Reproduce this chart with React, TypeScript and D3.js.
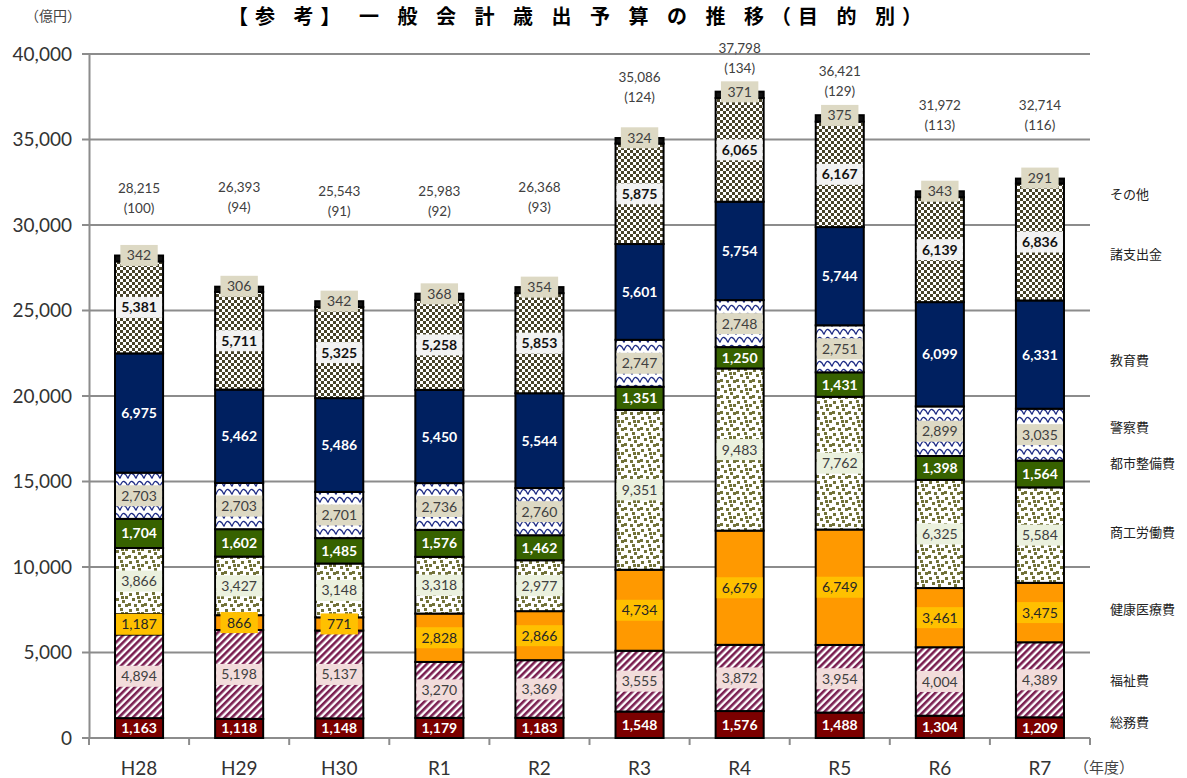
import React, { useEffect, useRef } from "react";
import * as d3 from "d3";

// 年度
const years = ["H28", "H29", "H30", "R1", "R2", "R3", "R4", "R5", "R6", "R7"];

// 目的別 (億円), bottom to top
const seriesNames = ["総務費", "福祉費", "健康医療費", "商工労働費", "都市整備費", "警察費", "教育費", "諸支出金", "その他"];
const soumu = [1163, 1118, 1148, 1179, 1183, 1548, 1576, 1488, 1304, 1209];
const fukushi = [4894, 5198, 5137, 3270, 3369, 3555, 3872, 3954, 4004, 4389];
const kenkou = [1187, 866, 771, 2828, 2866, 4734, 6679, 6749, 3461, 3475];
const shoukou = [3866, 3427, 3148, 3318, 2977, 9351, 9483, 7762, 6325, 5584];
const toshi = [1704, 1602, 1485, 1576, 1462, 1351, 1250, 1431, 1398, 1564];
const keisatsu = [2703, 2703, 2701, 2736, 2760, 2747, 2748, 2751, 2899, 3035];
const kyouiku = [6975, 5462, 5486, 5450, 5544, 5601, 5754, 5744, 6099, 6331];
const shishutsu = [5381, 5711, 5325, 5258, 5853, 5875, 6065, 6167, 6139, 6836];
const sonota = [342, 306, 342, 368, 354, 324, 371, 375, 343, 291];

const totals = [28215, 26393, 25543, 25983, 26368, 35086, 37798, 36421, 31972, 32714];
const indexVals = [100, 94, 91, 92, 93, 124, 134, 129, 113, 116];

const yTicks = [0, 5000, 10000, 15000, 20000, 25000, 30000, 35000, 40000];

// where the hand-placed text sits (in 億円 on the y scale)
const totalLabelAt = [32160, 32220, 31990, 31990, 32220, 38650, 40350, 39000, 37020, 37020];
const legendAt = [940, 3390, 7540, 12050, 16080, 18190, 22100, 28300, 31810];

const seriesValues = [soumu, fukushi, kenkou, shoukou, toshi, keisatsu, kyouiku, shishutsu, sonota];

const styles = [
  { fill: "#7B0000", bg: null, color: "#fff", bold: true },
  { fill: "url(#pStripe)", bg: "#F2DCDB", color: "#404040", bold: false },
  { fill: "#FF9900", bg: "#FFC000", color: "#262626", bold: false },
  { fill: "url(#pConfetti)", bg: "#EBF1DE", color: "#404040", bold: false },
  { fill: "#376200", bg: null, color: "#fff", bold: true },
  { fill: "url(#pWave)", bg: "#DDD9C4", color: "#404040", bold: false },
  { fill: "#002060", bg: null, color: "#fff", bold: true },
  { fill: "url(#pCheck)", bg: "#F2F2F2", color: "#111", bold: true },
  { fill: "#111", bg: "#DDD9C4", color: "#404040", bold: false },
];

const numFont = "Lato, 'Open Sans', sans-serif";
const jpFont = "'Noto Sans CJK JP', sans-serif";

export default function App() {
  const ref = useRef<SVGSVGElement>(null);

  useEffect(() => {
    const svg = d3.select(ref.current);
    svg.selectAll("*").remove();

    const x = d3
      .scaleBand()
      .domain(years)
      .range([89, 1090])
      .paddingInner(0.5)
      .paddingOuter(0.25);
    const y = d3.scaleLinear().domain([0, 40000]).range([738, 54]);

    const defs = svg.append("defs");

    const ps = defs
      .append("pattern")
      .attr("id", "pStripe")
      .attr("patternUnits", "userSpaceOnUse")
      .attr("width", 5)
      .attr("height", 5)
      .attr("patternTransform", "rotate(45)");
    ps.append("rect").attr("width", 5).attr("height", 5).attr("fill", "#fff");
    ps.append("rect").attr("width", 2.6).attr("height", 5).attr("fill", "#7A1E50");

    const pc = defs
      .append("pattern")
      .attr("id", "pCheck")
      .attr("patternUnits", "userSpaceOnUse")
      .attr("width", 6)
      .attr("height", 6);
    pc.append("rect").attr("width", 6).attr("height", 6).attr("fill", "#fff");
    pc.append("rect").attr("width", 3).attr("height", 3).attr("fill", "#48432A");
    pc.append("rect").attr("x", 3).attr("y", 3).attr("width", 3).attr("height", 3).attr("fill", "#48432A");

    // confetti-like scattered squares
    const pf = defs
      .append("pattern")
      .attr("id", "pConfetti")
      .attr("patternUnits", "userSpaceOnUse")
      .attr("width", 16)
      .attr("height", 16);
    pf.append("rect").attr("width", 16).attr("height", 16).attr("fill", "#fff");
    [[1, 1], [8, 0], [13, 4], [4, 6], [10, 8], [0, 11], [6, 12], [13, 12], [9, 4]].forEach(([a, b]) =>
      pf.append("rect").attr("x", a).attr("y", b).attr("width", 3).attr("height", 3).attr("fill", "#72723A")
    );

    const pw = defs
      .append("pattern")
      .attr("id", "pWave")
      .attr("patternUnits", "userSpaceOnUse")
      .attr("width", 8)
      .attr("height", 8);
    pw.append("rect").attr("width", 8).attr("height", 8).attr("fill", "#fff");
    pw.append("path")
      .attr("d", "M0,6.5 Q2,1 4,1.5 T8,6.5")
      .attr("fill", "none")
      .attr("stroke", "#1C2A84")
      .attr("stroke-width", 1.3);

    // gridlines
    svg
      .append("g")
      .selectAll("line")
      .data(yTicks)
      .join("line")
      .attr("x1", 82)
      .attr("x2", 1090)
      .attr("y1", (d) => y(d))
      .attr("y2", (d) => y(d))
      .attr("stroke", "#8C8C8C")
      .attr("stroke-width", 2);

    // y axis
    const yAxis = svg
      .append("g")
      .attr("transform", "translate(89,0)")
      .call(d3.axisLeft(y).tickValues(yTicks).tickSize(0).tickPadding(17).tickFormat(d3.format(",")));
    yAxis.select(".domain").attr("stroke", "#8C8C8C").attr("stroke-width", 2);
    yAxis
      .selectAll("text")
      .attr("font-family", numFont)
      .attr("font-size", 19)
      .attr("fill", "#333");

    // x axis ticks between categories
    const step = x.step();
    const bounds = years.map((c) => (x(c) as number) - step * 0.25).concat([1090]);
    svg
      .append("g")
      .selectAll("line")
      .data(bounds)
      .join("line")
      .attr("x1", (d) => d)
      .attr("x2", (d) => d)
      .attr("y1", 738)
      .attr("y2", 745)
      .attr("stroke", "#8C8C8C")
      .attr("stroke-width", 2);

    svg
      .append("g")
      .selectAll("text")
      .data(years)
      .join("text")
      .attr("x", (d) => (x(d) as number) + x.bandwidth() / 2)
      .attr("y", 775)
      .attr("text-anchor", "middle")
      .attr("font-family", numFont)
      .attr("font-size", 19)
      .attr("fill", "#333")
      .text((d) => d);

    // stacked bars
    const rows = years.map((yr, i) => {
      const r: any = { year: yr };
      seriesNames.forEach((s, k) => (r[s] = seriesValues[k][i]));
      return r;
    });
    const stacked = d3.stack().keys(seriesNames)(rows);
    const bw = x.bandwidth();

    stacked.forEach((layer, k) => {
      svg
        .append("g")
        .selectAll("rect")
        .data(layer)
        .join("rect")
        .attr("x", (d: any) => (x(d.data.year) as number) + 1)
        .attr("width", bw - 2)
        .attr("y", (d) => y(d[1]))
        .attr("height", (d) => y(d[0]) - y(d[1]))
        .attr("fill", styles[k].fill)
        .attr("stroke", "#000")
        .attr("stroke-width", 2);
    });

    // segment labels
    stacked.forEach((layer, k) => {
      const st = styles[k];
      layer.forEach((d: any) => {
        const cx = (x(d.data.year) as number) + bw / 2;
        const cy = y((d[0] + d[1]) / 2) + (k === 8 ? -3 : 0);
        const g = svg.append("g");
        const rect = g.append("rect");
        const t = g
          .append("text")
          .attr("x", cx)
          .attr("y", cy)
          .attr("dy", "0.36em")
          .attr("text-anchor", "middle")
          .attr("font-family", numFont)
          .attr("font-size", 14)
          .attr("font-weight", st.bold ? 700 : 400)
          .attr("fill", st.color)
          .text(d3.format(",")(d[1] - d[0]));
        if (st.bg) {
          const tw = (t.node() as SVGTextElement).getComputedTextLength();
          const w = Math.min(tw + 13, bw - 4);
          rect
            .attr("x", cx - w / 2)
            .attr("y", cy - 10.5)
            .attr("width", w)
            .attr("height", 21)
            .attr("fill", st.bg);
        } else {
          rect.remove();
        }
      });
    });

    // totals and index
    years.forEach((yr, i) => {
      const cx = (x(yr) as number) + bw / 2;
      const cy = y(totalLabelAt[i]);
      const lbl = svg
        .append("text")
        .attr("text-anchor", "middle")
        .attr("font-family", numFont)
        .attr("font-size", 13.5)
        .attr("fill", "#404040");
      lbl.append("tspan").attr("x", cx).attr("y", cy).attr("dy", "0.36em").text(d3.format(",")(totals[i]));
      lbl.append("tspan").attr("x", cx).attr("y", cy + 20).attr("dy", "0.36em").text(`(${indexVals[i]})`);
    });

    // legend labels
    svg
      .append("g")
      .selectAll("text")
      .data(seriesNames)
      .join("text")
      .attr("x", 1110)
      .attr("y", (d, i) => y(legendAt[i]))
      .attr("dy", "0.36em")
      .attr("font-family", jpFont)
      .attr("font-size", 13)
      .attr("fill", "#222")
      .text((d) => d);

    // title and units
    svg
      .append("text")
      .attr("x", 228)
      .attr("y", 24)
      .attr("textLength", 694)
      .attr("lengthAdjust", "spacing")
      .attr("font-family", jpFont)
      .attr("font-size", 20)
      .attr("font-weight", 700)
      .attr("fill", "#000")
      .text("【参 考】 一 般 会 計 歳 出 予 算 の 推 移（目 的 別）");

    svg
      .append("text")
      .attr("x", 25)
      .attr("y", 21)
      .attr("font-family", jpFont)
      .attr("font-size", 14)
      .attr("fill", "#444")
      .text("（億円）");

    svg
      .append("text")
      .attr("x", 1074)
      .attr("y", 773)
      .attr("font-family", jpFont)
      .attr("font-size", 15)
      .attr("fill", "#444")
      .text("（年度）");
  }, []);

  return (
    <div style={{ position: "absolute", left: 0, top: 0 }}>
      <svg ref={ref} width={1187} height={778} style={{ display: "block", background: "#fff" }}></svg>
    </div>
  );
}
